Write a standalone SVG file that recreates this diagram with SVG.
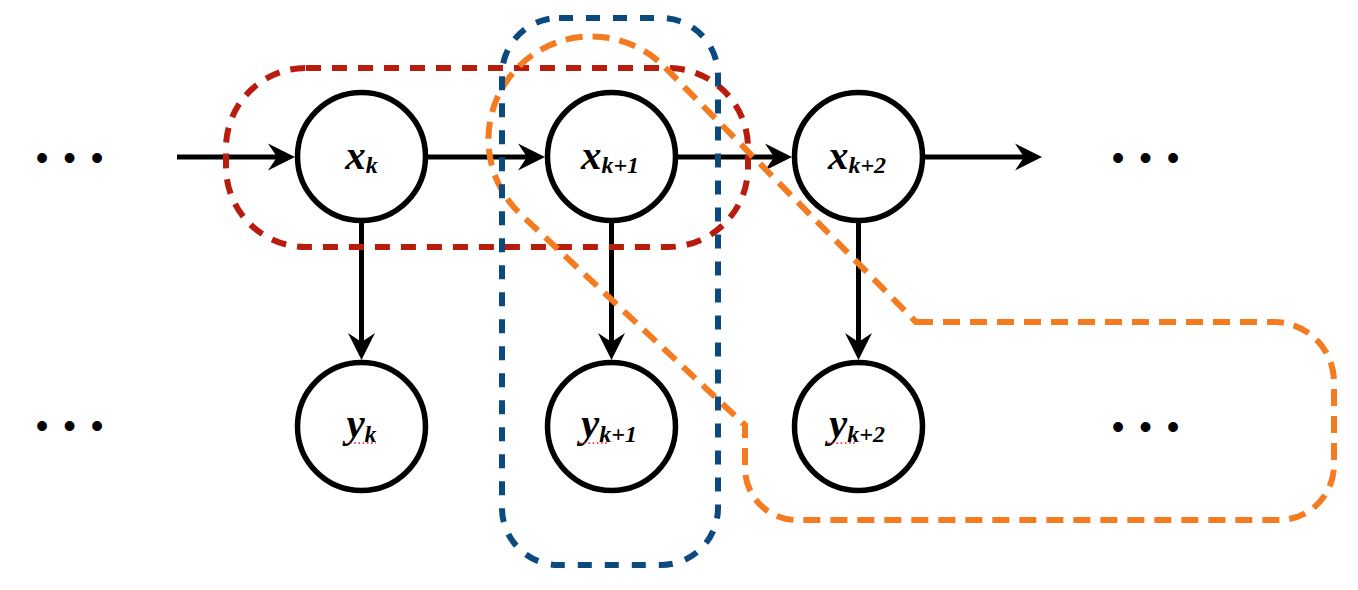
<svg xmlns="http://www.w3.org/2000/svg" width="1358" height="590" viewBox="0 0 1358 590">
<defs>
<style>
.node{fill:#fff;stroke:#000;stroke-width:5.5}
.edge{stroke:#000;stroke-width:5;fill:none}
.lbl{font-family:"Liberation Serif","Times New Roman",serif;font-weight:bold;font-style:italic;font-size:41px;fill:#000}
.sub{font-size:24px}
.dots{font-family:"Liberation Sans",Arial,sans-serif;font-size:36px;fill:#000;letter-spacing:14.9px}
.squig{stroke:#e02020;stroke-width:1.6;stroke-dasharray:1.6 2.6;fill:none}
.grp{fill:none;stroke-width:6}
.red{stroke:#B81C0C;stroke-dasharray:15 11}
.blue{stroke:#0B4A7E;stroke-dasharray:14 13}
.orange{stroke:#F47B20;stroke-dasharray:17 10}
</style>
<marker id="arr" viewBox="-30 -16 50 32" refX="0" refY="0" markerWidth="50" markerHeight="32" markerUnits="userSpaceOnUse" orient="auto" overflow="visible">
<path d="M15,0 L-12,-13.5 L-3,0 L-12,13.5 Z" fill="#000"/>
</marker>
</defs>
<rect width="1358" height="590" fill="#fff"/>
<g id="connectors">
<line class="edge" x1="177" y1="157" x2="280" y2="157" marker-end="url(#arr)"/>
<line class="edge" x1="428" y1="157" x2="530" y2="157" marker-end="url(#arr)"/>
<line class="edge" x1="678" y1="157" x2="777" y2="157" marker-end="url(#arr)"/>
<line class="edge" x1="925" y1="157" x2="1027" y2="157" marker-end="url(#arr)"/>
<line class="edge" x1="361.5" y1="223" x2="361.5" y2="345" marker-end="url(#arr)"/>
<line class="edge" x1="611.5" y1="223" x2="611.5" y2="345" marker-end="url(#arr)"/>
<line class="edge" x1="858.5" y1="223" x2="858.5" y2="345" marker-end="url(#arr)"/>
</g>
<g id="node-xk">
<circle class="node" cx="361.5" cy="156.5" r="64"/>
<text class="lbl" x="361.5" y="169" text-anchor="middle">x<tspan class="sub" dy="4">k</tspan></text>
</g>
<g id="node-xk1">
<circle class="node" cx="611.5" cy="156.5" r="64"/>
<text class="lbl" x="610" y="169" text-anchor="middle">x<tspan class="sub" dy="4">k+1</tspan></text>
</g>
<g id="node-xk2">
<circle class="node" cx="858.5" cy="156.5" r="64"/>
<text class="lbl" x="857" y="169" text-anchor="middle">x<tspan class="sub" dy="4">k+2</tspan></text>
</g>
<g id="node-yk">
<circle class="node" cx="361.5" cy="426.5" r="64"/>
<text class="lbl" x="361.5" y="437" text-anchor="middle">y<tspan class="sub" dy="5">k</tspan></text>
<line class="squig" x1="350" y1="443" x2="376" y2="443"/>
</g>
<g id="node-yk1">
<circle class="node" cx="611.5" cy="426.5" r="64"/>
<text class="lbl" x="609" y="437" text-anchor="middle">y<tspan class="sub" dy="5">k+1</tspan></text>
<line class="squig" x1="580" y1="443" x2="608" y2="443"/>
</g>
<g id="node-yk2">
<circle class="node" cx="858.5" cy="426.5" r="64"/>
<text class="lbl" x="857" y="437" text-anchor="middle">y<tspan class="sub" dy="5">k+2</tspan></text>
<line class="squig" x1="828" y1="443" x2="856" y2="443"/>
</g>
<g id="ellipsis">
<text class="dots" x="35.7" y="170">•••</text>
<text class="dots" x="35.7" y="438">•••</text>
<text class="dots" x="1111.7" y="170">•••</text>
<text class="dots" x="1111.7" y="439">•••</text>
</g>
<g id="groupings">
<rect id="group-red" class="grp red" x="226" y="68" width="522" height="179" rx="80" ry="80"/>
<path id="group-orange" class="grp orange" d="M916,322 L1274,322 A60 60 0 0 1 1334,382 L1334,465 A55 55 0 0 1 1279,520 L797,520 A52 52 0 0 1 745,468 L745,425 L519.17,212.83 A103 103 0 1 1 664.83,67.17 Z"/>
<rect id="group-blue" class="grp blue" x="502" y="18" width="216" height="547" rx="57" ry="57"/>
</g>
</svg>
